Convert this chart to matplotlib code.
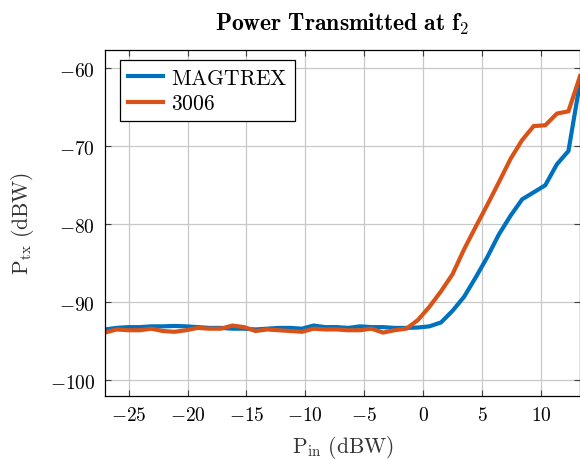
import matplotlib
matplotlib.use("Agg")
import matplotlib.pyplot as plt
from matplotlib.ticker import FuncFormatter

plt.rcParams["mathtext.fontset"] = "cm"
plt.rcParams["font.family"] = ["DejaVu Sans"]

# Input power sweep (dBW)
p_in = [-27.00, -26.02, -25.03, -24.05, -23.07, -22.09, -21.10, -20.12,
        -19.14, -18.15, -17.17, -16.19, -15.20, -14.22, -13.24, -12.26,
        -11.27, -10.29, -9.31, -8.32, -7.34, -6.36, -5.37, -4.39,
        -3.41, -2.43, -1.44, -0.46, 0.52, 1.51, 2.49, 3.47,
        4.46, 5.44, 6.42, 7.41, 8.39, 9.37, 10.35, 11.34,
        12.32, 13.30]

# Transmitted power at f2 (dBW)
ptx_magtrex = [-93.5, -93.3, -93.2, -93.2, -93.1, -93.1, -93.05, -93.1,
               -93.2, -93.3, -93.3, -93.4, -93.4, -93.5, -93.4, -93.3,
               -93.3, -93.4, -93.0, -93.2, -93.2, -93.3, -93.1, -93.2,
               -93.2, -93.3, -93.3, -93.25, -93.1, -92.6, -91.1, -89.3,
               -86.8, -84.2, -81.3, -78.9, -76.8, -75.9, -75.0, -72.3,
               -70.6, -61.8]

ptx_3006 = [-93.9, -93.5, -93.6, -93.6, -93.4, -93.7, -93.8, -93.6,
            -93.3, -93.4, -93.4, -93.0, -93.2, -93.7, -93.5, -93.6,
            -93.7, -93.8, -93.4, -93.5, -93.5, -93.6, -93.6, -93.4,
            -93.9, -93.6, -93.4, -92.3, -90.6, -88.6, -86.4, -83.2,
            -80.3, -77.5, -74.6, -71.6, -69.2, -67.4, -67.3, -65.8,
            -65.5, -61.0]

xticks = [-25, -20, -15, -10, -5, 0, 5, 10]
yticks = [-100, -90, -80, -70, -60]

W, H = 580, 460
fig = plt.figure(figsize=(W / 100, H / 100), dpi=100)
left, right, top, bottom = 105, 580, 50.7, 396.7
ax = fig.add_axes([left / W, 1 - bottom / H, (right - left) / W, (bottom - top) / H])

ax.plot(p_in, ptx_magtrex, color="#0072BD", lw=3.0, label=r"$\mathrm{MAGTREX}$",
        solid_joinstyle="miter")
ax.plot(p_in, ptx_3006, color="#D95319", lw=3.0, label=r"$3006$",
        solid_joinstyle="miter")

ax.set_xlim(-27, 13.3)
ax.set_ylim(-102, -57.6)
ax.set_xticks(xticks)
ax.set_yticks(yticks)
fmt = FuncFormatter(lambda v, pos: r"$%d$" % v)
ax.xaxis.set_major_formatter(fmt)
ax.yaxis.set_major_formatter(fmt)
ax.tick_params(direction="in", length=4, width=0.8, color="#404040",
               top=True, right=True, labelsize=14, pad=7)
ax.grid(True, color="#c8c8c8", lw=0.9)
ax.set_axisbelow(True)
for s in ax.spines.values():
    s.set_linewidth(0.9)
    s.set_color("black")

ax.set_xlabel(r"$\mathrm{P_{in}\ (dBW)}$", fontsize=15.5, color="#333333", labelpad=6)
ax.set_ylabel(r"$\mathrm{P_{tx}\ (dBW)}$", fontsize=15.5, color="#333333", labelpad=10)
ax.set_title(r"$\mathbf{Power\ Transmitted\ at\ f}_\mathbf{2}$", fontsize=17, pad=14)

leg = ax.legend(loc="upper left", bbox_to_anchor=(0.0316, 0.970), borderaxespad=0,
                fontsize=15.5, frameon=True, fancybox=False,
                edgecolor="black", framealpha=1,
                handlelength=1.65, handletextpad=0.35, borderpad=0.36,
                labelspacing=0.26)
leg.get_frame().set_linewidth(0.9)

fig.savefig("out.png", dpi=100)
